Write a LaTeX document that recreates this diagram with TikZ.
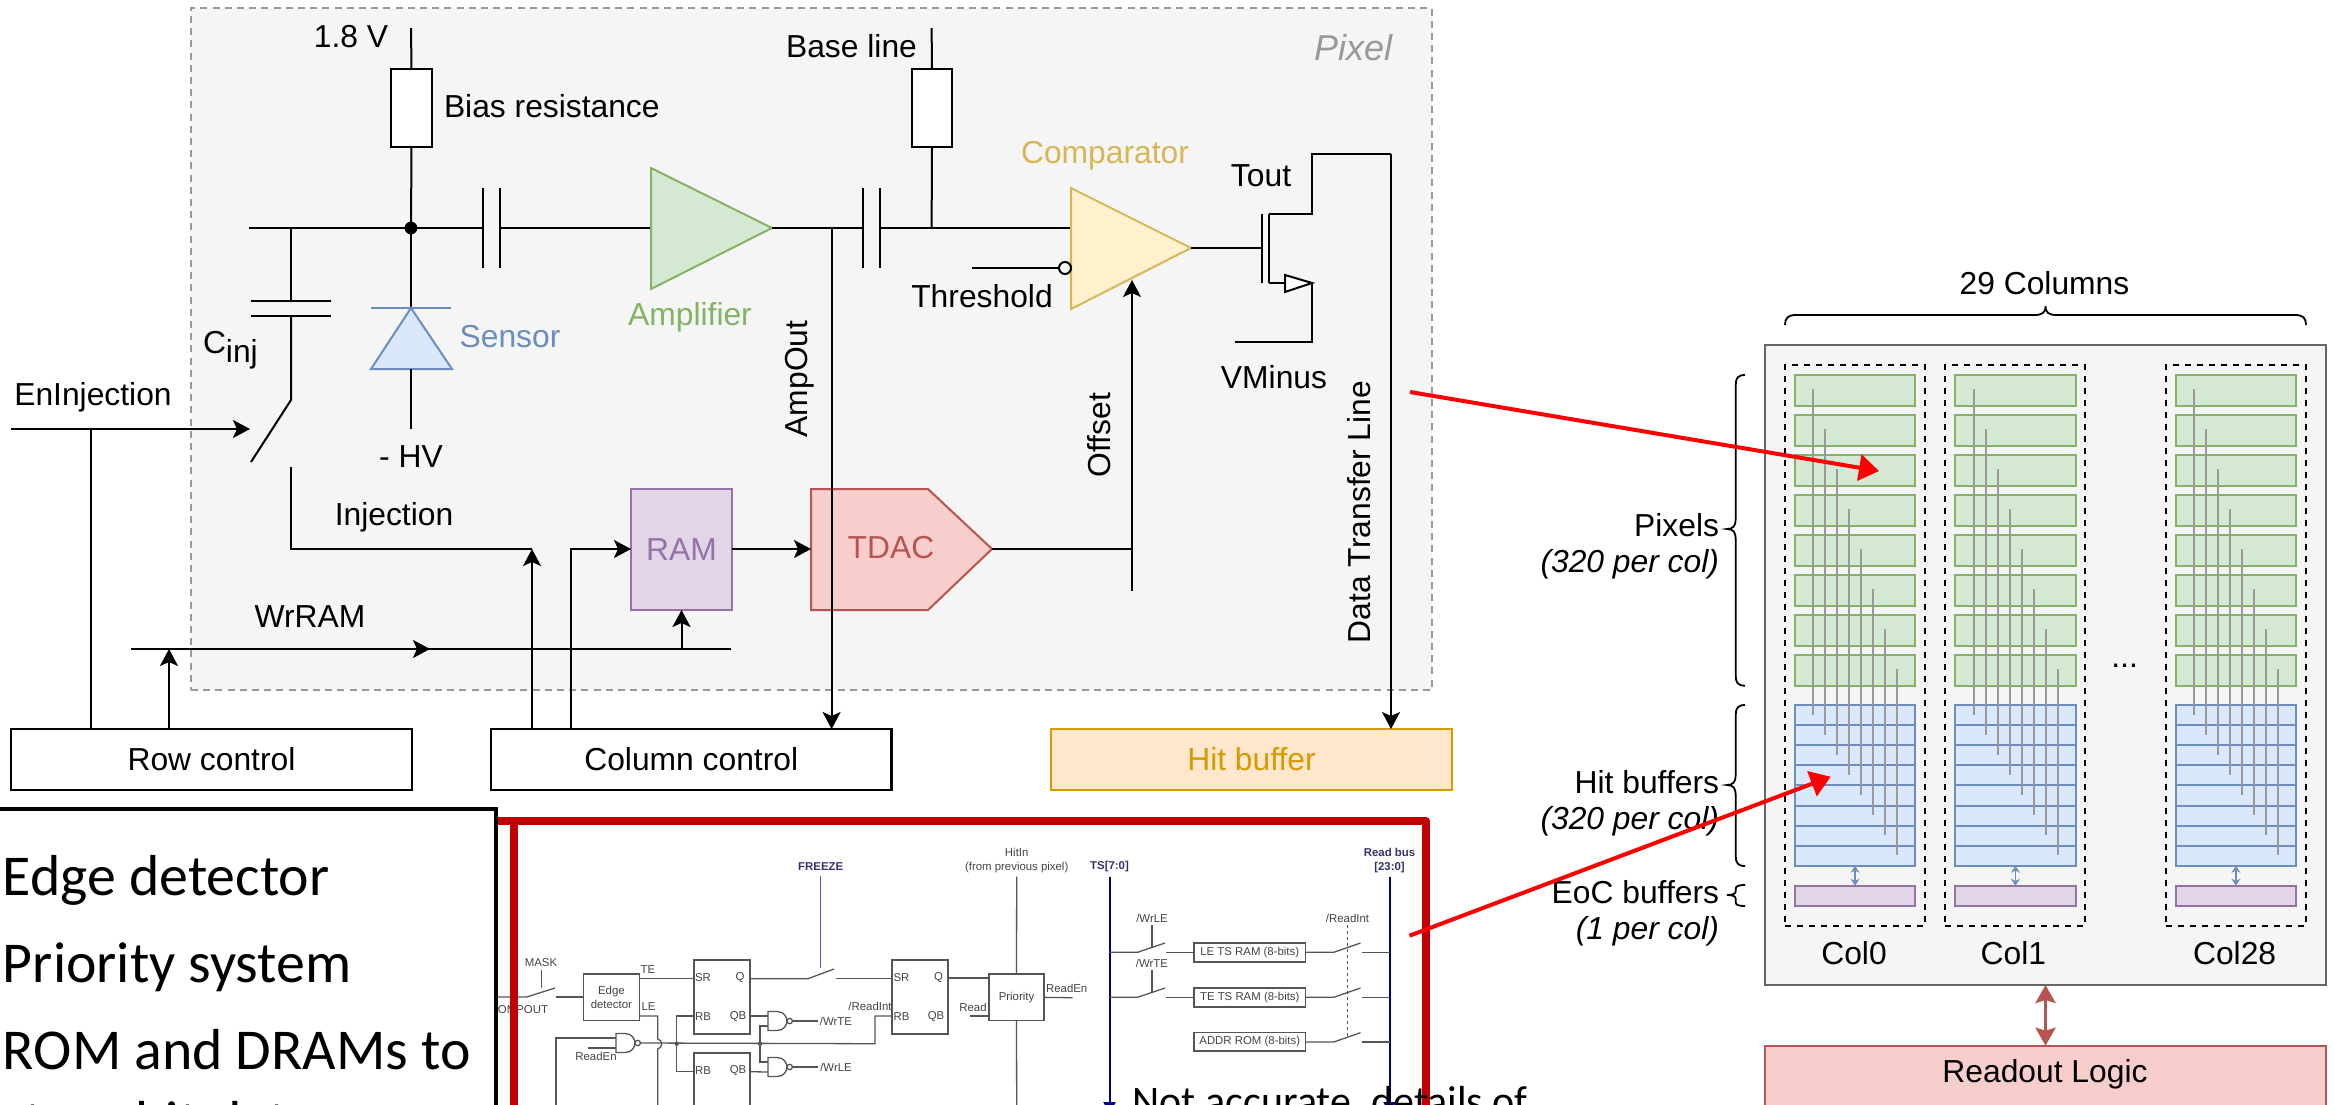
\documentclass[tikz,border=0pt]{standalone}
\usepackage{fontspec}
\setmainfont{Liberation Sans}
\newfontfamily\slidefont{Carlito}
\usetikzlibrary{arrows.meta}
\definecolor{pixfill}{HTML}{F5F5F5}
\definecolor{pixline}{HTML}{999999}
\definecolor{grnfill}{HTML}{D5E8D4}
\definecolor{grnline}{HTML}{82B366}
\definecolor{blufill}{HTML}{DAE8FC}
\definecolor{bluline}{HTML}{6C8EBF}
\definecolor{yelfill}{HTML}{FFF2CC}
\definecolor{yelline}{HTML}{D6B656}
\definecolor{purfill}{HTML}{E1D5E7}
\definecolor{purline}{HTML}{9673A6}
\definecolor{redfill}{HTML}{F8CECC}
\definecolor{redline}{HTML}{B85450}
\definecolor{orgfill}{HTML}{FFE6CC}
\definecolor{orgline}{HTML}{D79B00}
\definecolor{darkred}{HTML}{C00000}
\definecolor{schem}{HTML}{555555}
\definecolor{schemtxt}{HTML}{444444}
\definecolor{busnavy}{HTML}{000080}
\definecolor{buslab}{HTML}{33336B}
\definecolor{frzline}{HTML}{5A5AAA}
\newcommand\pxbox[7]{\node[#6, minimum width={((#4)-(#2))*0.5pt}, minimum height={((#5)-(#3))*0.5pt}] (#1) at ({((#2)+(#4))/2},{((#3)+(#5))/2}) {#7};}
\newcommand\sidebrace[4]{\draw[bracel] (1745,#1) .. controls (1738,#1) and (1735.7,{#1+#4*0.3}) .. (1735.7,{#1+#4}) -- (1735.7,{#2-#4}) .. controls (1735.7,{#2-#4*0.3}) and (1733,#2) .. (1727,#2) .. controls (1733,#2) and (1735.7,{#2+#4*0.3}) .. (1735.7,{#2+#4}) -- (1735.7,{#3-#4}) .. controls (1735.7,{#3-#4*0.3}) and (1738,#3) .. (1745,#3);}
\newcommand\nandg[3]{\draw[schemline,fill=white] (#2,{#3-9.5}) -- ({#2+9},{#3-9.5}) .. controls ({#2+16},{#3-9.5}) and ({#2+19},{#3-4}) .. ({#2+19},#3) .. controls ({#2+19},{#3+4}) and ({#2+16},{#3+9.5}) .. ({#2+9},{#3+9.5}) -- (#2,{#3+9.5}) -- cycle;
\draw[schemline,fill=white] ({#2+21.7},#3) circle [radius=1.35pt];
\coordinate (#1in1) at (#2,{#3-5}); \coordinate (#1in2) at (#2,{#3+5}); \coordinate (#1out) at ({#2+24.4},#3);}
\newcommand\stxt[4]{\node[smalltxt] (#1) at (#2,#3) {#4};}
\tikzset{
 lab/.style={font=\fontsize{15.9}{18}\selectfont,inner sep=0pt,outer sep=0pt,text=black},
 wire/.style={draw=black,line width=1pt},
 arrowwire/.style={wire,-{Stealth[length=8.5pt,width=9pt,inset=2pt]}},
 ctlbox/.style={draw=black,line width=1.3pt,fill=white,inner sep=0pt,outer sep=0pt,font=\fontsize{15.9}{18}\selectfont},
 resbox/.style={draw=black,line width=1pt,fill=white,inner sep=0pt,outer sep=0pt},
 hitbox/.style={draw=orgline,line width=1.2pt,fill=orgfill,inner sep=0pt,outer sep=0pt,text=orgline,font=\fontsize{15.9}{18}\selectfont},
 rambox/.style={draw=purline,line width=1pt,fill=purfill,inner sep=0pt,outer sep=0pt,text=purline,font=\fontsize{15.9}{18}\selectfont},
 grncell/.style={draw=grnline,line width=1pt,fill=grnfill,inner sep=0pt,outer sep=0pt},
 blucell/.style={draw=bluline,line width=1pt,fill=blufill,inner sep=0pt,outer sep=0pt},
 purcell/.style={draw=purline,line width=1pt,fill=purfill,inner sep=0pt,outer sep=0pt},
 dashcol/.style={draw=black,line width=0.8pt,dash pattern=on 3.2pt off 2.8pt,inner sep=0pt,outer sep=0pt},
 chipbox/.style={draw=black!60,line width=1.2pt,fill=pixfill,inner sep=0pt,outer sep=0pt},
 rdoutbox/.style={draw=redline,line width=1.2pt,fill=redfill,inner sep=0pt,outer sep=0pt,font=\fontsize{15.9}{18}\selectfont},
 pixbox/.style={draw=pixline,line width=0.8pt,dash pattern=on 3.5pt off 2.6pt,fill=pixfill,inner sep=0pt,outer sep=0pt},
 gline/.style={draw=pixline,line width=1pt},
 bracel/.style={draw=black,line width=0.9pt},
 blueboth/.style={draw=bluline,line width=0.8pt,{Stealth[length=3.5pt,width=4.5pt]}-{Stealth[length=3.5pt,width=4.5pt]}},
 redboth/.style={draw=redline,line width=1.6pt,{Stealth[length=9pt,width=10pt,inset=1.5pt]}-{Stealth[length=9pt,width=10pt,inset=1.5pt]}},
 redpoint/.style={draw=red,line width=2pt,-{Triangle[length=10pt,width=13pt]}},
 schemline/.style={draw=schem,line width=0.65pt},
 schemdash/.style={draw=schem,line width=0.6pt,dash pattern=on 1.5pt off 1.5pt},
 schembox/.style={draw=schem,line width=0.6pt,fill=white,inner sep=0pt,outer sep=0pt,text=schemtxt,font=\fontsize{5.7}{6.6}\selectfont,align=center},
 smalltxt/.style={inner sep=0pt,outer sep=0pt,text=schemtxt,font=\fontsize{5.7}{6.6}\selectfont,align=center},
 bustxt/.style={smalltxt,text=buslab},
 bus/.style={draw=busnavy,line width=1pt},
 redframe/.style={draw=darkred,line width=4pt,line join=round},
 slidebox/.style={draw=black,line width=2pt,fill=white,inner sep=0pt,outer sep=0pt},
 slidetxt/.style={inner sep=0pt,outer sep=0pt,font=\slidefont\fontsize{28.9}{34}\selectfont,anchor=base west},
}
\begin{document}
\begin{tikzpicture}[x=0.5pt,y=-0.5pt]
\useasboundingbox (0,0) rectangle (2334,1104);
\clip (0,0) rectangle (2334,1104);
\fill[white] (0,0) rectangle (2334,1104);

% ---- pixel frame ----
\pxbox{pix}{191}{8}{1432}{690}{pixbox}{}
\node[lab,font=\itshape\fontsize{18}{20}\selectfont,text=pixline] (pixlab) at (1353,48) {Pixel};

% ---- bias + sensor ----
\coordinate (vtop) at (411,28);
\coordinate (node1) at (411,228);
\coordinate (mainL) at (249,228);
\coordinate (cinjT) at (291,228);
\pxbox{rbias}{391}{69}{432}{147}{resbox}{}
\draw[wire] (vtop) -- (rbias.north);
\draw[wire] (rbias.south) -- (node1);
\node[lab] (l18) at (351,37) {1.8 V};
\node[lab,anchor=west] (lbias) at (444,106) {Bias resistance};
\coordinate (capAl) at (483,228);
\coordinate (capAr) at (499.5,228);
\coordinate (ampIn) at (651,228);
\coordinate (ampOut) at (772,228);
\draw[wire] (mainL) -- (capAl);
\draw[wire] (capAr) -- (ampIn);
\draw[wire] (483,188) -- (483,268);
\draw[wire] (499.5,188) -- (499.5,268);
\fill[black] (node1) circle [radius=3.2pt];
\draw[draw=grnline,fill=grnfill,line width=1pt] (ampIn |- 0,168) -- (ampIn |- 0,289) -- (ampOut) -- cycle;
\node[lab,text=grnline] (lamp) at (690,317) {Amplifier};
% diode
\coordinate (dioA) at (411,308);
\coordinate (dioB) at (411,369);
\coordinate (dioE) at (411,428.5);
\draw[wire] (node1) -- (dioA);
\draw[draw=bluline,fill=blufill,line width=1pt] (dioA) -- (452,369) -- (371,369) -- cycle;
\draw[draw=bluline,line width=1pt] (371,308) -- (451,308);
\draw[wire] (dioB) -- (dioE);
\node[lab,text=bluline] (lsens) at (510,337) {Sensor};
\node[lab] (lhv) at (411,457) {- HV};
% Cinj + switch
\coordinate (cinjU) at (291,301);
\coordinate (cinjD) at (291,316);
\coordinate (swA) at (291,400);
\coordinate (swB) at (251,462);
\coordinate (swC) at (291,467);
\coordinate (injCorner) at (291,549);
\coordinate (injEnd) at (532,549);
\draw[wire] (cinjT) -- (cinjU);
\draw[wire] (251,301) -- (331,301);
\draw[wire] (251,316) -- (331,316);
\draw[wire] (cinjD) -- (swA) -- (swB);
\draw[wire] (swC) -- (injCorner) -- (injEnd);
\node[lab,anchor=base west] (lcinj) at (203,353) {C\raisebox{-4.5pt}{inj}};
\node[lab] (lenj) at (93,397) {EnInjection};
\node[lab] (linj) at (394,517) {Injection};
% control boxes
\pxbox{row}{11}{729}{412}{790}{ctlbox}{Row control}
\pxbox{col}{491}{729}{891.5}{790}{ctlbox}{Column control}
\pxbox{hit}{1051}{729}{1452}{790}{hitbox}{Hit buffer}
\coordinate (enL) at (11,429);
\coordinate (enR) at (250,429);
\coordinate (enJ) at (91,429);
\coordinate (enD) at (91,729);
\draw[arrowwire] (enL) -- (enR);
\draw[wire] (enJ) -- (enD);
% RAM / TDAC
\pxbox{ram}{631}{489}{732}{610}{rambox}{RAM}
\draw[draw=redline,fill=redfill,line width=1pt] (811,489) -- (928,489) -- (992,549) -- (928,610) -- (811,610) -- cycle;
\node[lab,text=redline] (tdac) at (891,548) {TDAC};
\coordinate (tdacIn) at (811,549);
\coordinate (tdacOut) at (992,549);
\coordinate (ramIn) at (631,549);
\coordinate (ramOut) at (732,549);
\coordinate (wrL) at (131,649);
\coordinate (wrR) at (731,649);
\coordinate (wrM) at (430,649);
\coordinate (wrRow) at (169,649);
\coordinate (wrRowB) at (169,729);
\coordinate (wrRam) at (681.5,649);
\coordinate (colA) at (532,729);
\coordinate (colB) at (571,729);
\coordinate (colBt) at (571,549);
\draw[wire] (wrL) -- (wrR);
\draw[arrowwire] (wrL) -- (wrM);
\draw[arrowwire] (wrRowB) -- (wrRow);
\draw[arrowwire] (wrRam) -- (wrRam |- ram.south);
\draw[arrowwire] (colA) -- (injEnd);
\draw[arrowwire] (colB) -- (colBt) -- (ramIn);
\draw[arrowwire] (ramOut) -- (tdacIn);
\node[lab] (lwr) at (310,617) {WrRAM};
% second stage
\coordinate (capBl) at (863,228);
\coordinate (capBr) at (880,228);
\coordinate (ampJ) at (831.6,228);
\coordinate (ampEnd) at (831.6,729);
\coordinate (bTop) at (931.6,28);
\coordinate (bJ) at (931.6,228);
\coordinate (cmpIn) at (1071,228);
\coordinate (cmpOut) at (1191,248);
\draw[wire] (ampOut) -- (capBl);
\draw[wire] (capBr) -- (cmpIn);
\draw[wire] (863,188) -- (863,268);
\draw[wire] (880,188) -- (880,268);
\pxbox{rbase}{912}{69}{952}{147}{resbox}{}
\draw[wire] (bTop) -- (rbase.north);
\draw[wire] (rbase.south) -- (bJ);
\node[lab] (lbase) at (851.5,46) {Base line};
\draw[arrowwire] (ampJ) -- (ampEnd);
\node[lab,rotate=90] (lampo) at (799.5,379) {AmpOut};
% comparator
\draw[draw=yelline,fill=yelfill,line width=1pt] (1071,188) -- (1071,309) -- (cmpOut) -- cycle;
\node[lab,text=yelline] (lcmp) at (1105,156) {Comparator};
\coordinate (thL) at (972,268);
\coordinate (thR) at (1059,268);
\draw[wire] (thL) -- (thR);
\draw[wire] (1065,268) circle [radius=3pt];
\node[lab] (lth) at (982,296) {Threshold};
\coordinate (ofsB) at (1132,591);
\coordinate (ofsT) at (1132,280);
\coordinate (ofsJ) at (1132,549);
\draw[arrowwire] (ofsB) -- (ofsT);
\draw[wire] (tdacOut) -- (ofsJ);
\node[lab,rotate=90] (lofs) at (1099,435) {Offset};
% transistor
\coordinate (gate) at (1262,248);
\draw[wire] (cmpOut) -- (gate);
\draw[draw=black,line width=0.8pt] (1262,214) -- (1262,283);
\draw[draw=black,line width=0.8pt] (1269,214) -- (1269,283);
\coordinate (drn) at (1269,214);
\coordinate (drnC) at (1312,214);
\coordinate (drnT) at (1312,154);
\coordinate (dataT) at (1391,154);
\coordinate (dataE) at (1391,729);
\coordinate (srcA) at (1269,283);
\coordinate (srcB) at (1285,283);
\coordinate (srcC) at (1312,283);
\coordinate (srcD) at (1312,342);
\coordinate (srcE) at (1235,342);
\draw[wire] (drn) -- (drnC) -- (drnT) -- (dataT);
\draw[arrowwire] (dataT) -- (dataE);
\draw[wire] (srcA) -- (srcB);
\draw[wire,fill=white] (1285,275) -- (1285,292) -- (srcC) -- cycle;
\draw[wire] (srcC) -- (srcD) -- (srcE);
\node[lab] (ltout) at (1261,176) {Tout};
\node[lab] (lvm) at (1274,377) {VMinus};
\node[lab,rotate=90] (ldata) at (1359,512) {Data Transfer Line};

% ---- embedded schematic ----
\node[smalltxt,anchor=east] (lcomp) at (548,1010) {COMPOUT};
\stxt{lmask}{541}{963}{MASK}
\pxbox{edge}{583.3}{974}{639.5}{1020.7}{schembox}{Edge\\detector}
\coordinate (swMtop) at (541.5,970);
\coordinate (swMbot) at (541.5,988);
\coordinate (cIn) at (498,997);
\coordinate (sw1a) at (526.7,997);
\coordinate (sw1b) at (555,988);
\coordinate (sw1c) at (556,997);
\draw[schemline] (swMtop) -- (swMbot);
\draw[schemline] (cIn) -- (sw1a) -- (sw1b);
\draw[schemline] (sw1c) -- (sw1c -| edge.west);
\stxt{lte}{648}{970}{TE}
\stxt{lle}{648.5}{1007}{LE}
\pxbox{ff1}{694}{960}{750}{1034}{schembox}{}
\pxbox{ff2}{694}{1053}{750}{1140}{schembox}{}
\pxbox{ff3}{892}{960}{948}{1034}{schembox}{}
\stxt{a1}{703}{978}{SR}\stxt{a2}{740}{978}{Q}\stxt{a3}{703}{1017}{RB}\stxt{a4}{738}{1017}{QB}
\stxt{a5}{703}{1071}{RB}\stxt{a6}{738}{1071}{QB}
\stxt{a7}{901.5}{978}{SR}\stxt{a8}{938.6}{978}{Q}\stxt{a9}{901.5}{1017}{RB}\stxt{a10}{936}{1017}{QB}
\coordinate (teL) at (639.5,978.7);
\coordinate (leL) at (639.5,1016);
\coordinate (leC) at (657.7,1016);
\coordinate (leA) at (657.7,1039);
\coordinate (leB) at (657.7,1049);
\coordinate (leD) at (657.7,1110);
\draw[schemline] (teL) -- (teL -| ff1.west);
\draw[schemline] (leL) -- (leC) -- (leA) .. controls (663,1040) and (663,1048) .. (leB) -- (leD);
\coordinate (rbT) at (676.7,1016);
\coordinate (rbJ) at (676.7,1043.7);
\coordinate (rbB) at (676.7,1071.7);
\draw[schemline] (ff1.west |- rbT) -- (rbT) -- (rbB) -- (ff2.west |- rbB);
\nandg{ng1}{616}{1043}
\nandg{ng2}{768}{1021}
\nandg{ng3}{768}{1067}
\coordinate (rst1) at (875,1043.7);
\coordinate (rst2) at (875,1016);
\draw[schemline] (ng1out) -- (rst1) -- (rst2) -- (ff3.west |- rst2);
\fill[schem] (rbJ) circle [radius=1.1pt];
\fill[schem] (760,1043.7) circle [radius=1.1pt];
\coordinate (ngInT) at (556,1038);
\coordinate (ngInD) at (556,1110);
\coordinate (ngInE) at (588,1048);
\draw[schemline] (ngInD) -- (ngInT) -- (ng1in1);
\draw[schemline] (ngInE) -- (ng1in2);
\stxt{lrden}{596}{1056}{ReadEn}
\coordinate (qb1) at (750,1016);
\coordinate (qb2) at (750,1071.7);
\coordinate (ngJt) at (760,1026);
\coordinate (ngJb) at (760,1062);
\draw[schemline] (qb1) -- (ng2in1);
\draw[schemline] (qb2) -- (ng3in2);
\draw[schemline] (ng2in2) -- (ngJt) -- (ngJb) -- (ng3in1);
\coordinate (wte) at (818,1021);
\coordinate (wle) at (818,1067);
\draw[schemline] (ng2out) -- (wte);
\draw[schemline] (ng3out) -- (wle);
\stxt{lwte}{836}{1021.7}{/WrTE}
\stxt{lwle}{836}{1067}{/WrLE}
\coordinate (q1) at (750,978.7);
\coordinate (q2) at (808,978.7);
\coordinate (q3) at (834,969);
\coordinate (q4) at (835.5,978.7);
\draw[schemline] (q1) -- (q2) -- (q3);
\draw[schemline] (q4) -- (q4 -| ff3.west);
\node[bustxt,font=\bfseries\fontsize{5.7}{6.6}\selectfont] (lfrz) at (820.7,867) {FREEZE};
\coordinate (frzT) at (820.7,876);
\coordinate (frzB) at (820.7,968);
\draw[draw=frzline,line width=0.7pt] (frzT) -- (frzB);
\stxt{lrdi}{870}{1006}{/ReadInt}
\pxbox{prio}{989}{974}{1044}{1020.7}{schembox}{Priority}
\coordinate (hitT) at (1016.7,876.7);
\coordinate (hitB) at (1016.7,1110);
\draw[schemline] (hitT) -- (prio.north);
\draw[schemline] (prio.south) -- (hitB);
\draw[schemline] (ff3.east |- 0,978) -- (prio.west |- 0,978);
\stxt{lhitin}{1016.7}{860.5}{HitIn\\(from previous pixel)}
\stxt{lrden2}{1066.7}{988}{ReadEn}
\coordinate (reE) at (1072.5,997.7);
\draw[schemline] (prio.east) -- (reE);
\stxt{lread}{973}{1007}{Read}
\coordinate (rdL) at (970,1016);
\draw[schemline] (rdL) -- (rdL -| prio.west);
% buses
\node[bustxt,font=\bfseries\fontsize{5.7}{6.6}\selectfont] (lts) at (1109.5,867) {TS[7:0]};
\node[bustxt,font=\bfseries\fontsize{5.7}{6.6}\selectfont] (lrb) at (1389.5,860.5) {Read bus\\{[23:0]}};
\coordinate (tsT) at (1109.5,876.7);
\coordinate (tsB) at (1109.5,1114);
\coordinate (rbusT) at (1389.5,876.7);
\coordinate (rbusB) at (1389.5,1114);
\draw[bus,-{Stealth[length=6pt,width=6pt,inset=0pt]}] (tsT) -- (tsB);
\draw[bus,-{Stealth[length=6pt,width=6pt,inset=0pt]}] (rbusT) -- (rbusB);
\pxbox{letsb}{1194}{943}{1305.5}{962}{schembox}{LE TS RAM (8-bits)}
\pxbox{tetsb}{1194}{988}{1305.5}{1007}{schembox}{TE TS RAM (8-bits)}
\pxbox{addrb}{1194}{1032.7}{1305.5}{1051}{schembox}{ADDR ROM (8-bits)}
\stxt{lwle2}{1152}{918}{/WrLE}
\stxt{lwte2}{1152}{963}{/WrTE}
\stxt{lrdi2}{1347.5}{918}{/ReadInt}
\coordinate (s1t) at (1152,925); \coordinate (s1b) at (1152,947);
\coordinate (s2t) at (1152,970); \coordinate (s2b) at (1152,992);
\draw[schemline] (s1t) -- (s1b);
\draw[schemline] (s2t) -- (s2b);
\foreach \yy/\nm in {952.3/r1,997.3/r2} {
 \coordinate (\nm a) at (1109.5,\yy);
 \coordinate (\nm b) at (1137.5,\yy);
 \coordinate (\nm c) at (1165,{\yy-9.3});
 \coordinate (\nm d) at (1166,\yy);
 \coordinate (\nm e) at (1194,\yy);
 \draw[schemline] (\nm a) -- (\nm b) -- (\nm c);
 \draw[schemline] (\nm d) -- (\nm e);
}
\foreach \yy/\nm in {952.3/t1,997.3/t2,1042/t3} {
 \coordinate (\nm a) at (1305.5,\yy);
 \coordinate (\nm b) at (1333.7,\yy);
 \coordinate (\nm c) at (1360.5,{\yy-9.3});
 \coordinate (\nm d) at (1361.8,\yy);
 \coordinate (\nm e) at (1389.5,\yy);
 \draw[schemline] (\nm a) -- (\nm b) -- (\nm c);
 \draw[schemline] (\nm d) -- (\nm e);
}
\coordinate (rdiT) at (1347.5,925);
\coordinate (rdiB) at (1347.5,1036);
\draw[schemdash] (rdiT) -- (rdiB);

% ---- red frame, slide text ----
\coordinate (frL) at (490,821);
\coordinate (frC) at (1426,821);
\coordinate (frE) at (1426,1110);
\coordinate (fvT) at (513.7,821);
\coordinate (fvB) at (513.7,1110);
\draw[redframe] (frL) -- (frC) -- (frE);
\draw[redframe] (fvT) -- (fvB);
\pxbox{notes}{-10}{809}{496}{1130}{slidebox}{}
\node[slidetxt] (e1) at (3,895) {Edge detector};
\node[slidetxt] (e2) at (3,982) {Priority system};
\node[slidetxt] (e3) at (3,1069) {ROM and DRAMs to};
\node[slidetxt] (e4) at (3,1141) {store hit data};
\node[slidetxt,font=\slidefont\fontsize{21}{25}\selectfont] (e5) at (1132.7,1115) {Not accurate, details of};

% ---- chip floorplan ----
\pxbox{chip}{1765}{345}{2326}{985}{chipbox}{}
\foreach \cc/\xa/\da in {0/1794.6/1785,1/1955/1945,28/2175.5/2166} {
 \pxbox{dc\cc}{\da}{365}{\da+140}{926}{dashcol}{}
 \foreach \i in {0,...,7} {
  \pxbox{g\cc-\i}{\xa}{375+40*\i}{\xa+120.8}{405.5+40*\i}{grncell}{}
 }
 \foreach \i in {0,...,7} {
  \pxbox{h\cc-\i}{\xa}{705+20.1*\i}{\xa+120.8}{725.1+20.1*\i}{blucell}{}
 }
 \pxbox{e\cc}{\xa}{885.7}{\xa+120.8}{906}{purcell}{}
 \draw[blueboth] (h\cc-7.south) -- (e\cc.north);
 \foreach \i in {0,...,7} {
  \coordinate (gt\cc-\i) at ({\xa+18.5+12*\i},{389+40*\i});
  \coordinate (gb\cc-\i) at ({\xa+18.5+12*\i},{715+20*\i});
  \draw[gline] (gt\cc-\i) -- (gb\cc-\i);
 }
}
\node[lab] (c0l) at (1854,953) {Col0};
\node[lab] (c1l) at (2013.4,953) {Col1};
\node[lab] (c28l) at (2234.6,953) {Col28};
\node[lab] (cdots) at (2124.6,666) {...};
\node[lab] (c29) at (2044.5,283) {29 Columns};
\draw[bracel] (1785,325) .. controls (1785,318) and (1788,315) .. (1796,315) -- (2034,315) .. controls (2042,315) and (2045.5,313) .. (2045.5,306) .. controls (2045.5,313) and (2049,315) .. (2057,315) -- (2295,315) .. controls (2303,315) and (2306,318) .. (2306,325);
\sidebrace{375}{529}{685.7}{10}
\sidebrace{705}{785}{866}{10}
\sidebrace{885}{895}{906}{4}
\node[lab,anchor=east] (lp1) at (1719,525) {Pixels};
\node[lab,anchor=east,font=\itshape\fontsize{15.9}{18}\selectfont] (lp2) at (1719,564) {(320 per col)};
\node[lab,anchor=east] (lh1) at (1719,782) {Hit buffers};
\node[lab,anchor=east,font=\itshape\fontsize{15.9}{18}\selectfont] (lh2) at (1719,821) {(320 per col)};
\node[lab,anchor=east] (le1) at (1719,892) {EoC buffers};
\node[lab,anchor=east,font=\itshape\fontsize{15.9}{18}\selectfont] (le2) at (1719,931) {(1 per col)};
\pxbox{rdout}{1765}{1045.7}{2326}{1125}{rdoutbox}{}
\node[lab] (lrd) at (2045,1074) {Readout Logic};
\draw[redboth] (rdout.north) -- (chip.south);

% ---- red pointers ----
\coordinate (p1a) at (1410,392);
\coordinate (p1b) at (1879,471);
\coordinate (p2a) at (1409.5,935.7);
\coordinate (p2b) at (1830.7,776.7);
\draw[redpoint] (p1a) -- (p1b);
\draw[redpoint] (p2a) -- (p2b);
\end{tikzpicture}
\end{document}
